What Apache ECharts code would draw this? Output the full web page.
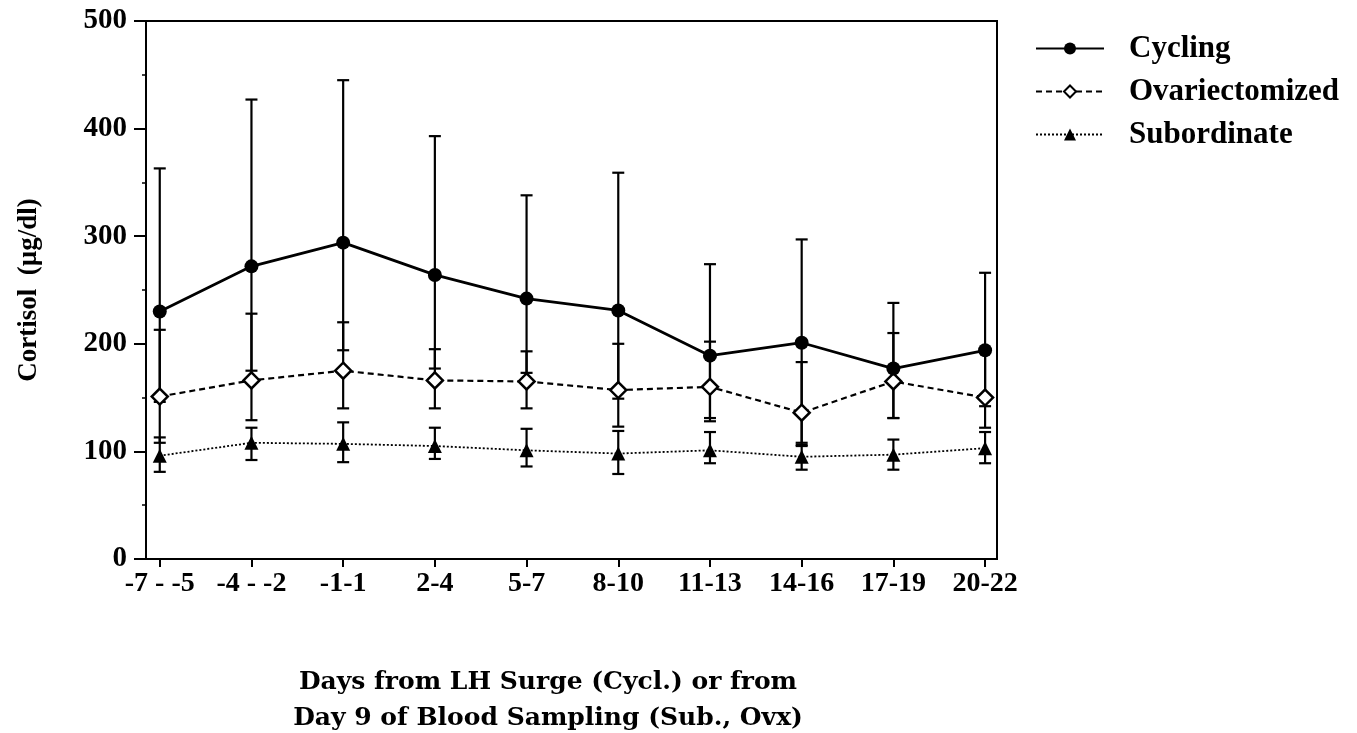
<!DOCTYPE html>
<html>
<head>
<meta charset="utf-8">
<script src="https://cdn.jsdelivr.net/npm/echarts@6/dist/echarts.min.js"></script>
<style>
  html, body { margin: 0; background: #fff; }
  #chart { width: 1357px; height: 733px; }
</style>
</head>
<body>
<div id="chart"></div>
<script>
const categories = ['-7 - -5', '-4 - -2', '-1-1', '2-4', '5-7', '8-10', '11-13', '14-16', '17-19', '20-22'];

const cyclingMean  = [230, 272, 294, 264, 242, 231, 189, 201, 177, 194];
const cyclingUpper = [363, 427, 445, 393, 338, 359, 274, 297, 238, 266];
const cyclingLower = [146, 175, 194, 177, 173, 149, 128, 105, 131, 142];

const ovxMean  = [151, 166, 175, 166, 165, 157, 160, 136, 165, 150];
const ovxUpper = [213, 228, 220, 195, 193, 200, 202, 183, 210, 194];
const ovxLower = [108, 129, 140, 140, 140, 123, 131, 108, 131, 122];

const subMean  = [96, 108, 107, 105, 101, 98, 101, 95, 97, 103];
const subUpper = [113, 122, 127, 122, 121, 119, 118, 106, 111, 118];
const subLower = [81, 92, 90, 93, 86, 79, 89, 83, 83, 89];

const font = 'Liberation Serif';
const wideFont = 'DejaVu Serif';
const chart = echarts.init(document.getElementById('chart'));

function points(arr) {
  return arr.map((v, i) => [i, v]);
}
function errData(lower, upper) {
  return lower.map((l, i) => [i, l, upper[i]]);
}
// vertical bar with a cap at each end
function renderErr(params, api) {
  const x = api.value(0);
  const lo = api.coord([x, api.value(1)]);
  const hi = api.coord([x, api.value(2)]);
  const w = 6;
  const style = { stroke: '#000', lineWidth: 2.2 };
  return {
    type: 'group',
    children: [
      { type: 'line', shape: { x1: lo[0], y1: lo[1], x2: hi[0], y2: hi[1] }, style },
      { type: 'line', shape: { x1: lo[0] - w, y1: lo[1], x2: lo[0] + w, y2: lo[1] }, style },
      { type: 'line', shape: { x1: hi[0] - w, y1: hi[1], x2: hi[0] + w, y2: hi[1] }, style }
    ]
  };
}
function errSeries(name, lower, upper) {
  return {
    name: name,
    type: 'custom',
    renderItem: renderErr,
    encode: { x: 0, y: [1, 2] },
    data: errData(lower, upper),
    silent: true,
    z: 1
  };
}

chart.setOption({
  animation: false,
  backgroundColor: '#fff',
  grid: {
    left: 146, top: 21, right: 360, bottom: 174,
    show: true, borderColor: '#000', borderWidth: 2
  },
  legend: {
    data: ['Cycling', 'Ovariectomized', 'Subordinate'],
    orient: 'vertical',
    left: 1030, top: 28,
    itemWidth: 68, itemHeight: 15, itemGap: 12,
    textStyle: { fontFamily: font, fontWeight: 'bold', fontSize: 31, color: '#000', lineHeight: 30, padding: [0, 0, 0, 20] }
  },
  // x axis title sits left of the plot centre in the original
  graphic: [{
    type: 'text',
    x: 548, y: 664,
    style: {
      text: 'Days from LH Surge (Cycl.) or from\nDay 9 of Blood Sampling (Sub., Ovx)',
      align: 'center',
      fontFamily: wideFont, fontWeight: 'bold', fontSize: 25, lineHeight: 36, fill: '#000'
    }
  }],
  xAxis: {
    type: 'value',
    min: -0.15, max: 9.13,
    splitLine: { show: false },
    axisLine: { onZero: false, lineStyle: { color: '#000', width: 2 } },
    axisTick: { customValues: categories.map((c, i) => i), length: 8, lineStyle: { color: '#000', width: 2 } },
    axisLabel: {
      customValues: categories.map((c, i) => i),
      formatter: v => categories[Math.round(v)],
      fontFamily: font, fontWeight: 'bold', fontSize: 28, color: '#000', margin: 11
    }
  },
  yAxis: {
    type: 'value',
    min: 0, max: 500, interval: 100,
    splitLine: { show: false },
    axisLine: { onZero: false, lineStyle: { color: '#000', width: 2 } },
    axisTick: { length: 12, lineStyle: { color: '#000', width: 2 } },
    minorTick: { show: true, splitNumber: 2, length: 4, lineStyle: { color: '#000', width: 1.5 } },
    axisLabel: { fontFamily: font, fontWeight: 'bold', fontSize: 29, color: '#000', margin: 19 },
    name: 'Cortisol  (\u00b5g/dl)',
    nameLocation: 'middle',
    nameGap: 103,
    nameTextStyle: { fontFamily: font, fontWeight: 'bold', fontSize: 27, color: '#000' }
  },
  series: [
    errSeries('cycErr', cyclingLower, cyclingUpper),
    errSeries('ovxErr', ovxLower, ovxUpper),
    errSeries('subErr', subLower, subUpper),
    {
      name: 'Cycling', type: 'line', z: 5,
      data: points(cyclingMean),
      symbol: 'circle', symbolSize: 14,
      itemStyle: { color: '#000' },
      lineStyle: { color: '#000', width: 2.8 }
    },
    {
      name: 'Ovariectomized', type: 'line', z: 4,
      data: points(ovxMean),
      symbol: 'diamond', symbolSize: 16,
      itemStyle: { color: '#fff', borderColor: '#000', borderWidth: 2.5 },
      lineStyle: { color: '#000', width: 2.2, type: [6, 4] }
    },
    {
      name: 'Subordinate', type: 'line', z: 3,
      data: points(subMean),
      symbol: 'triangle', symbolSize: 14,
      itemStyle: { color: '#000' },
      lineStyle: { color: '#000', width: 1.8, type: [2, 2] }
    }
  ]
});
</script>
</body>
</html>
